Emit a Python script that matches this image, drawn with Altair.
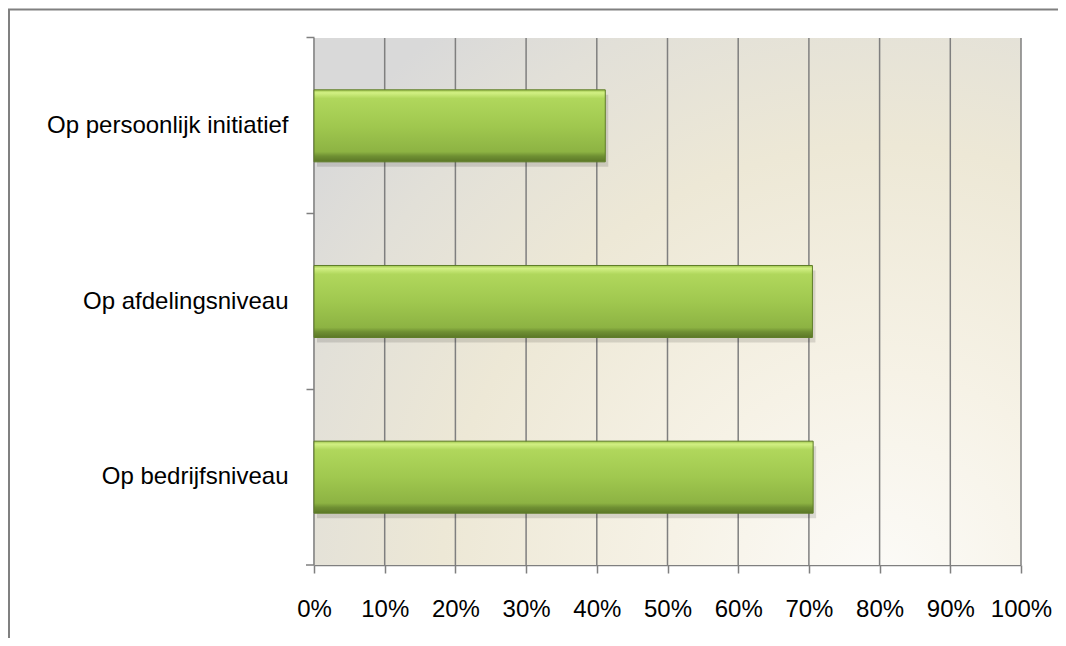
import altair as alt
import pandas as pd

categories = ["Op persoonlijk initiatief", "Op afdelingsniveau", "Op bedrijfsniveau"]
values = [0.412, 0.705, 0.706]
tick_values = [0, 0.1, 0.2, 0.3, 0.4, 0.5, 0.6, 0.7, 0.8, 0.9, 1.0]

df = pd.DataFrame({"cat": categories, "val": values})
grid_df = pd.DataFrame({"t": tick_values})

W, H = 707, 527
FONT = "Liberation Sans"
GRAY = "#7f7f7f"

bg = alt.RadialGradient(
    gradient="radial", x1=0.8, y1=0.9, r1=0, x2=0.8, y2=0.9, r2=1.0,
    stops=[
        alt.GradientStop(offset=0, color="#fcfbf8"),
        alt.GradientStop(offset=0.3, color="#f6f2e6"),
        alt.GradientStop(offset=0.62, color="#ede8d6"),
        alt.GradientStop(offset=0.85, color="#e2e0d8"),
        alt.GradientStop(offset=1, color="#d9d9d9"),
    ],
)

bar_grad = alt.LinearGradient(
    gradient="linear", x1=0, y1=0, x2=0, y2=1,
    stops=[
        alt.GradientStop(offset=0, color="#9cc34a"),
        alt.GradientStop(offset=0.04, color="#d2f084"),
        alt.GradientStop(offset=0.12, color="#b0d75c"),
        alt.GradientStop(offset=0.5, color="#a0c84f"),
        alt.GradientStop(offset=0.86, color="#8db343"),
        alt.GradientStop(offset=0.92, color="#6f9033"),
        alt.GradientStop(offset=1, color="#5b7727"),
    ],
)

yscale = alt.Scale(domain=categories, paddingInner=0.59, paddingOuter=0.295)
xscale = alt.Scale(domain=[0, 1])

x_axis = alt.Axis(
    values=tick_values, format=".0%", grid=False,
    domainColor=GRAY, domainWidth=1.5, tickColor=GRAY, tickSize=8,
    tickWidth=1.5, labelFont=FONT, labelFontSize=24, labelColor="#000000",
    labelPadding=24, labelFlush=False,
)
y_axis = alt.Axis(
    domainColor=GRAY, domainWidth=1.5, tickColor=GRAY, tickSize=8, tickWidth=1.5,
    bandPosition=-0.72, labelFont=FONT, labelFontSize=24, labelColor="#000000",
    labelPadding=18, labelLimit=400,
)

one = alt.Data(values=[{"a": 1}])

background = alt.Chart(one).mark_rect(fill=bg, strokeWidth=0).encode(
    x=alt.value(0), x2=alt.value(W), y=alt.value(0), y2=alt.value(H)
)

gridlines = alt.Chart(grid_df).mark_rule(color=GRAY, strokeWidth=1.5).encode(
    x=alt.X("t:Q", scale=xscale, title=None, axis=x_axis),
    y=alt.value(0), y2=alt.value(H),
)

base = alt.Chart(df)

shadow = base.mark_bar(color="#000000", opacity=0.12, xOffset=3, yOffset=5).encode(
    x=alt.X("val:Q", scale=xscale, title=None, axis=x_axis),
    y=alt.Y("cat:N", scale=yscale, sort=categories, title=None, axis=y_axis),
)

bars = base.mark_bar(fill=bar_grad, stroke="#5f7d29", strokeWidth=1).encode(
    x=alt.X("val:Q", scale=xscale, title=None, axis=x_axis),
    y=alt.Y("cat:N", scale=yscale, sort=categories, title=None, axis=y_axis),
)

bottom_tick = alt.Chart(one).mark_rule(color=GRAY, strokeWidth=1.5).encode(
    x=alt.value(-8), x2=alt.value(0), y=alt.value(H)
)
frame_top = alt.Chart(one).mark_rule(color="#808080", strokeWidth=2).encode(
    x=alt.value(-306), x2=alt.value(W + 40), y=alt.value(-28.5)
)
frame_left = alt.Chart(one).mark_rule(color="#808080", strokeWidth=2).encode(
    x=alt.value(-305), y=alt.value(-29), y2=alt.value(H + 80)
)

chart = (
    alt.layer(background, gridlines, shadow, bars, bottom_tick, frame_top, frame_left)
    .properties(
        width=W, height=H,
        autosize=alt.AutoSizeParams(type="none"),
        padding={"left": 306, "top": 30, "right": 37, "bottom": 73},
        background="#ffffff",
    )
    .configure_view(stroke=None)
)

chart.save("out.html", embed_options={"renderer": "svg", "actions": False})
